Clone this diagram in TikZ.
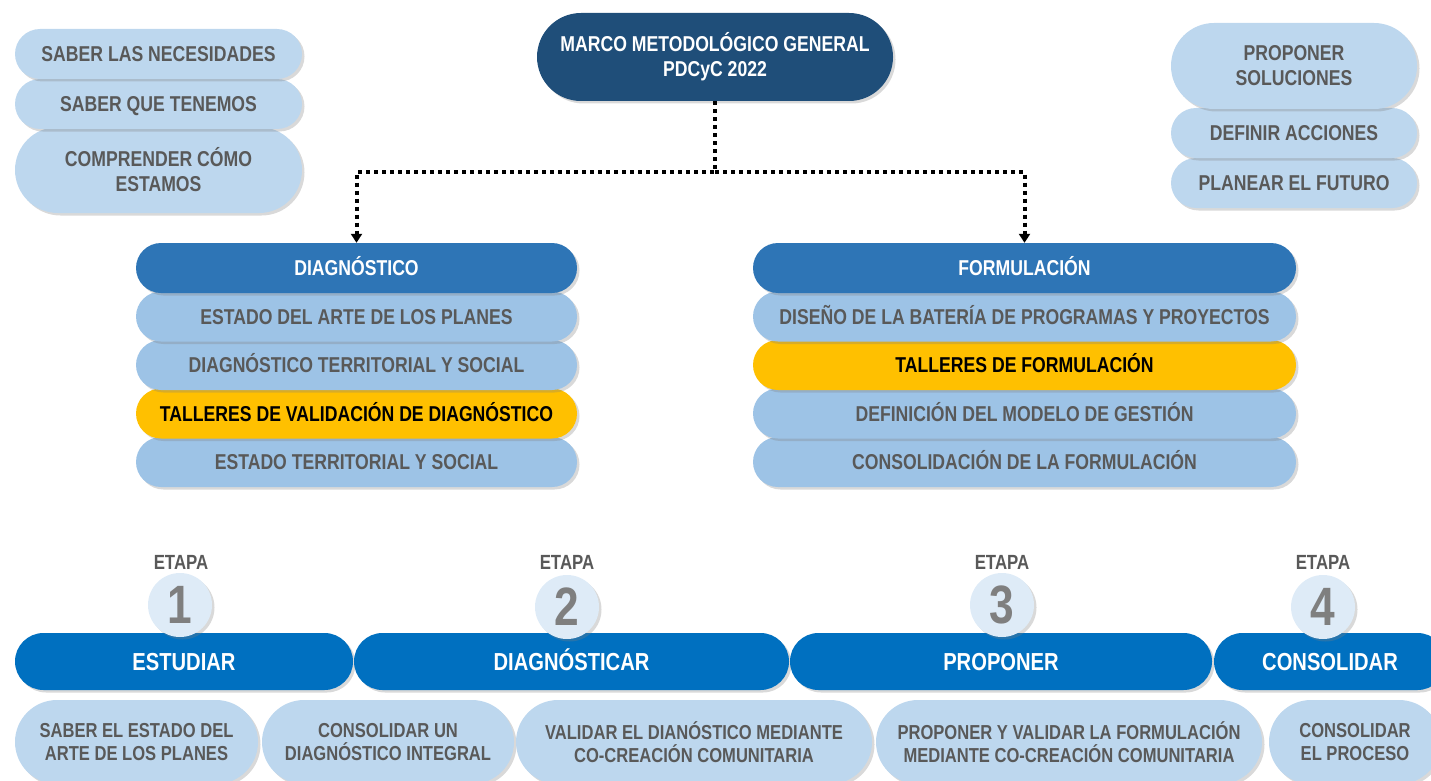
\documentclass[tikz,border=0pt]{standalone}
\usepackage{fontspec}
\setmainfont{Liberation Sans}[FakeStretch=0.82]
\usetikzlibrary{arrows.meta,shadows}

\definecolor{marcoblue}{HTML}{1F4E79}
\definecolor{headblue}{HTML}{2E75B6}
\definecolor{rowblue}{HTML}{9DC3E6}
\definecolor{paleblue}{HTML}{BDD7EE}
\definecolor{stageblue}{HTML}{0070C0}
\definecolor{circfill}{HTML}{DEEBF7}
\definecolor{gold}{HTML}{FFC000}
\definecolor{greytext}{HTML}{595959}
\definecolor{digitgrey}{HTML}{7F7F7F}

\newcommand{\boxfont}{\fontsize{21.5}{25}\selectfont\bfseries}
\newcommand{\stagefont}{\fontsize{24.6}{26}\selectfont\bfseries}

\begin{document}
\begin{tikzpicture}[x=1pt, y=-1pt,
        base/.style={inner sep=0pt, align=center, font=\boxfont,
            drop shadow={shadow xshift=2.5pt, shadow yshift=-2.5pt, opacity=0.3}},
        pale/.style={base, fill=paleblue, text=greytext},
        slim/.style={minimum height=50pt, rounded corners=25pt, text height=15pt, text depth=0pt},
        tall/.style={minimum height=86pt, rounded corners=43pt},
        row/.style={base, slim, fill=rowblue, text=greytext},
        head/.style={base, slim, fill=headblue, text=white},
        taller/.style={base, slim, fill=gold, text=black},
        stagebar/.style={base, fill=stageblue, text=white, font=\stagefont,
            minimum height=57pt, rounded corners=28.5pt, text height=17.5pt, text depth=0pt},
        goal/.style={pale, minimum height=84pt, rounded corners=42pt,
            font=\fontsize{20.2}{22.5}\selectfont\bfseries},
        etapa/.style={font=\fontsize{20.5}{22}\selectfont\bfseries, text=greytext},
        stagenum/.style={circle, fill=circfill, minimum size=64pt, inner sep=0pt,
            text=digitgrey, font=\fontsize{54}{54}\selectfont\bfseries,
            drop shadow={shadow xshift=2.5pt, shadow yshift=-2.5pt, opacity=0.3}},
        link/.style={line width=4pt, dash pattern=on 4pt off 4pt,
            -{Triangle[length=9pt, width=11pt]}},
    ]
    \useasboundingbox (0,0) rectangle (1431,781);
    \clip (0,0) rectangle (1431,781);

    % needs, top left
    \node[pale, tall, minimum width=287pt] (need3) at (158.5,170) {COMPRENDER CÓMO\\ESTAMOS};
    \node[pale, slim, minimum width=287pt] (need2) at (158.5,104) {SABER QUE TENEMOS};
    \node[pale, slim, minimum width=287pt] (need1) at (158.5,54) {SABER LAS NECESIDADES};

    % solutions, top right
    \node[pale, slim, minimum width=246pt] (sol3) at (1294,183) {PLANEAR EL FUTURO};
    \node[pale, slim, minimum width=246pt] (sol2) at (1294,133) {DEFINIR ACCIONES};
    \node[pale, tall, minimum width=246pt] (sol1) at (1294,66) {PROPONER\\SOLUCIONES};

    % general frame
    \node[base, fill=marcoblue, text=white, minimum width=356pt, minimum height=88pt,
        rounded corners=44pt] (marco) at (715,57) {MARCO METODOLÓGICO GENERAL\\PDCyC 2022};

    % diagnostico column
    \node[row, minimum width=441pt] (diag5) at (356.5,462) {ESTADO TERRITORIAL Y SOCIAL};
    \node[taller, minimum width=441pt] (diag4) at (356.5,413.5) {TALLERES DE VALIDACIÓN DE DIAGNÓSTICO};
    \node[row, minimum width=441pt] (diag3) at (356.5,365) {DIAGNÓSTICO TERRITORIAL Y SOCIAL};
    \node[row, minimum width=441pt] (diag2) at (356.5,316.5) {ESTADO DEL ARTE DE LOS PLANES};
    \node[head, minimum width=441pt] (diag) at (356.5,268) {DIAGNÓSTICO};

    % formulacion column
    \node[row, minimum width=543pt] (form5) at (1024.5,462) {CONSOLIDACIÓN DE LA FORMULACIÓN};
    \node[row, minimum width=543pt] (form4) at (1024.5,413.5) {DEFINICIÓN DEL MODELO DE GESTIÓN};
    \node[taller, minimum width=543pt] (form3) at (1024.5,365) {TALLERES DE FORMULACIÓN};
    \node[row, minimum width=543pt] (form2) at (1024.5,316.5) {DISEÑO DE LA BATERÍA DE PROGRAMAS Y PROYECTOS};
    \node[head, minimum width=543pt] (form) at (1024.5,268) {FORMULACIÓN};

    \coordinate (hub) at (715,172);
    \draw[link] (marco.south) -- (hub) -| (diag.north);
    \draw[link] (hub) -| (form.north);

    % stages
    \node[stagebar, minimum width=338pt] (estudiar) at (184,661.5) {ESTUDIAR};
    \node[stagebar, minimum width=435pt] (diagnosticar) at (571.5,661.5) {DIAGNÓSTICAR};
    \node[stagebar, minimum width=422pt] (proponer) at (1001,661.5) {PROPONER};
    \node[stagebar, minimum width=232pt] (consolidar) at (1330,661.5) {CONSOLIDAR};

    \node[etapa] (etapa1) at (181,562) {ETAPA};
    \node[etapa] (etapa2) at (567,562) {ETAPA};
    \node[etapa] (etapa3) at (1002,562) {ETAPA};
    \node[etapa] (etapa4) at (1323,562) {ETAPA};
    \node[stagenum] (num1) at (180,605) {1};
    \node[stagenum] (num2) at (567,607) {2};
    \node[stagenum] (num3) at (1002,605) {3};
    \node[stagenum] (num4) at (1323,607) {4};

    % goals, bottom row
    \node[goal, minimum width=243pt] (goal1) at (136.5,742) {SABER EL ESTADO DEL\\ARTE DE LOS PLANES};
    \node[goal, minimum width=252pt] (goal2) at (388,742) {CONSOLIDAR UN\\DIAGNÓSTICO INTEGRAL};
    \node[goal, minimum width=356pt] (goal3) at (694,742) {VALIDAR EL DIANÓSTICO MEDIANTE\\CO-CREACIÓN COMUNITARIA};
    \node[goal, minimum width=386pt] (goal4) at (1069,742) {PROPONER Y VALIDAR LA FORMULACIÓN\\MEDIANTE CO-CREACIÓN COMUNITARIA};
    \node[goal, minimum width=172pt] (goal5) at (1355,742) {CONSOLIDAR\\EL PROCESO};
\end{tikzpicture}
\end{document}
